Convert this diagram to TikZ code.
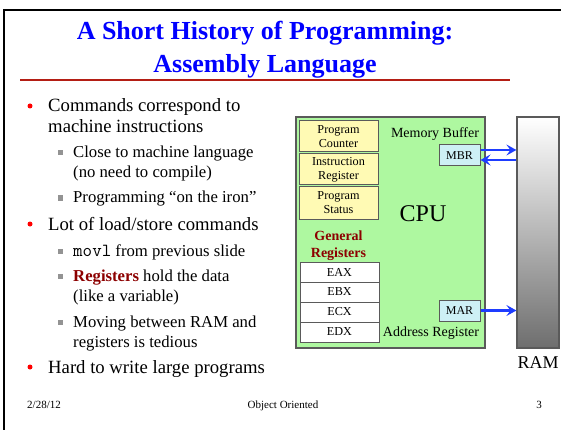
\documentclass[tikz,border=0pt]{standalone}
\usepackage{fontspec}
\setmainfont{Liberation Serif}
\usetikzlibrary{arrows.meta}
\definecolor{titleblue}{RGB}{0,0,255}
\definecolor{rulered}{RGB}{180,30,20}
\definecolor{darkred}{RGB}{140,0,0}
\definecolor{cpugreen}{RGB}{174,248,160}
\definecolor{pyellow}{RGB}{255,250,180}
\definecolor{mcyan}{RGB}{205,240,245}
\definecolor{arrblue}{RGB}{30,60,255}
\definecolor{ramgray}{RGB}{110,110,110}
\definecolor{boxedge}{RGB}{90,90,90}
\begin{document}
\begin{tikzpicture}[x=1pt,y=-1pt,
  title/.style={anchor=base, inner sep=0, text=titleblue, font=\fontsize{26}{30}\selectfont\bfseries},
  mainitem/.style={anchor=base west, inner sep=0, font=\fontsize{18.7}{22}\selectfont},
  subitem/.style={anchor=base west, inner sep=0, font=\fontsize{16.7}{20}\selectfont},
  bul/.style={circle, fill=red, inner sep=0, minimum size=5pt},
  sq/.style={rectangle, fill=gray!85, inner sep=0, minimum size=5pt},
  foot/.style={anchor=base, inner sep=0, font=\fontsize{11}{13}\selectfont},
  ybox/.style={draw=boxedge, line width=1pt, fill=pyellow, minimum width=79pt, inner sep=0, align=center, font=\fontsize{12.2}{14}\selectfont},
  rbox/.style={draw=boxedge, line width=1pt, fill=white, minimum width=79pt, minimum height=20pt, inner sep=0, font=\fontsize{12.2}{14}\selectfont},
  mbox/.style={draw=boxedge, line width=1pt, fill=mcyan, minimum width=41pt, minimum height=21pt, inner sep=0, font=\fontsize{12}{14}\selectfont},
  lbl/.style={anchor=base, inner sep=0, font=\fontsize{14}{16}\selectfont},
  arr/.style={draw=arrblue, line width=2.4pt, -{Stealth[length=10pt, width=11pt, inset=4pt]}}
]
\useasboundingbox (0,0) rectangle (561,430);
% frame
\draw[line width=2pt] (4,430) -- (4,10) -- (561,10);
% title
\node[title] (t1) at (265,40) {A Short History of Programming:};
\node[title] (t2) at (265,73) {Assembly Language};
\draw[rulered, line width=1.3pt] (20,80) -- (510,80);
% bullets
\node[bul] (b1) at (30,106) {};
\node[mainitem] (l1) at (48,112) {Commands correspond to};
\node[mainitem] (l2) at (48,133) {machine instructions};
\node[sq] (s1) at (60,153) {};
\node[subitem] (l3) at (73,158) {Close to machine language};
\node[subitem] (l4) at (73,178) {(no need to compile)};
\node[sq] (s2) at (60,198) {};
\node[subitem] (l5) at (73,203) {Programming “on the iron”};
\node[bul] (b2) at (30,224) {};
\node[mainitem] (l6) at (48,230) {Lot of load/store commands};
\node[sq] (s3) at (60,251) {};
\node[subitem] (l7) at (73,256) {{\fontsize{18.5}{20}\selectfont\ttfamily movl} from previous slide};
\node[sq] (s4) at (60,276) {};
\node[subitem] (l8) at (73,281) {\textcolor{darkred}{\bfseries Registers} hold the data};
\node[subitem] (l9) at (73,301) {(like a variable)};
\node[sq] (s5) at (60,322) {};
\node[subitem] (l10) at (73,327) {Moving between RAM and};
\node[subitem] (l11) at (73,347) {registers is tedious};
\node[bul] (b3) at (30,367) {};
\node[mainitem] (l12) at (48,373) {Hard to write large programs};
% footer
\node[foot] (f1) at (44,408) {2/28/12};
\node[foot] (f2) at (283,408) {Object Oriented};
\node[foot] (f3) at (539,408) {3};
% CPU
\node[draw=boxedge, line width=1.2pt, fill=cpugreen, minimum width=189pt, minimum height=231pt, inner sep=0] (cpu) at (390.5,232.5) {};
\node[ybox, minimum height=31pt] (pc) at (338.5,136.5) {Program\\Counter};
\node[ybox, minimum height=31pt] (ir) at (338.5,169.5) {Instruction\\Register};
\node[ybox, minimum height=32pt] (ps) at (338.5,203) {Program\\Status};
\node[lbl, text=darkred, font=\fontsize{14}{16}\selectfont\bfseries] (gr1) at (338.5,240) {General};
\node[lbl, text=darkred, font=\fontsize{14}{16}\selectfont\bfseries] (gr2) at (338.5,257) {Registers};
\node[rbox] (eax) at (339.5,272) {EAX};
\node[rbox] (ebx) at (339.5,292) {EBX};
\node[rbox] (ecx) at (339.5,312) {ECX};
\node[rbox] (edx) at (339.5,332) {EDX};
\node[lbl] (mb) at (435,138) {Memory Buffer};
\node[mbox] (mbr) at (459.5,155.5) {MBR};
\node[anchor=base, inner sep=0, font=\fontsize{24}{28}\selectfont] (cpul) at (423,221) {CPU};
\node[mbox] (mar) at (459.5,310.5) {MAR};
\node[lbl] (ar) at (431,336) {Address Register};
% RAM
\node[draw=boxedge, line width=1.2pt, top color=white, bottom color=ramgray, minimum width=42pt, minimum height=231pt, inner sep=0] (ram) at (538,232.5) {};
\node[anchor=base, inner sep=0, font=\fontsize{18}{20}\selectfont] (raml) at (538,368) {RAM};
% arrows
\coordinate (m1) at ([yshift=5.5pt]mbr.east);
\coordinate (m2) at ([yshift=-4.5pt]mbr.east);
\draw[arr] (m1) -- (m1 -| ram.west);
\draw[arr] (m2 -| ram.west) -- (m2);
\draw[arr] (mar.east) -- (mar.east -| ram.west);
\end{tikzpicture}
\end{document}
